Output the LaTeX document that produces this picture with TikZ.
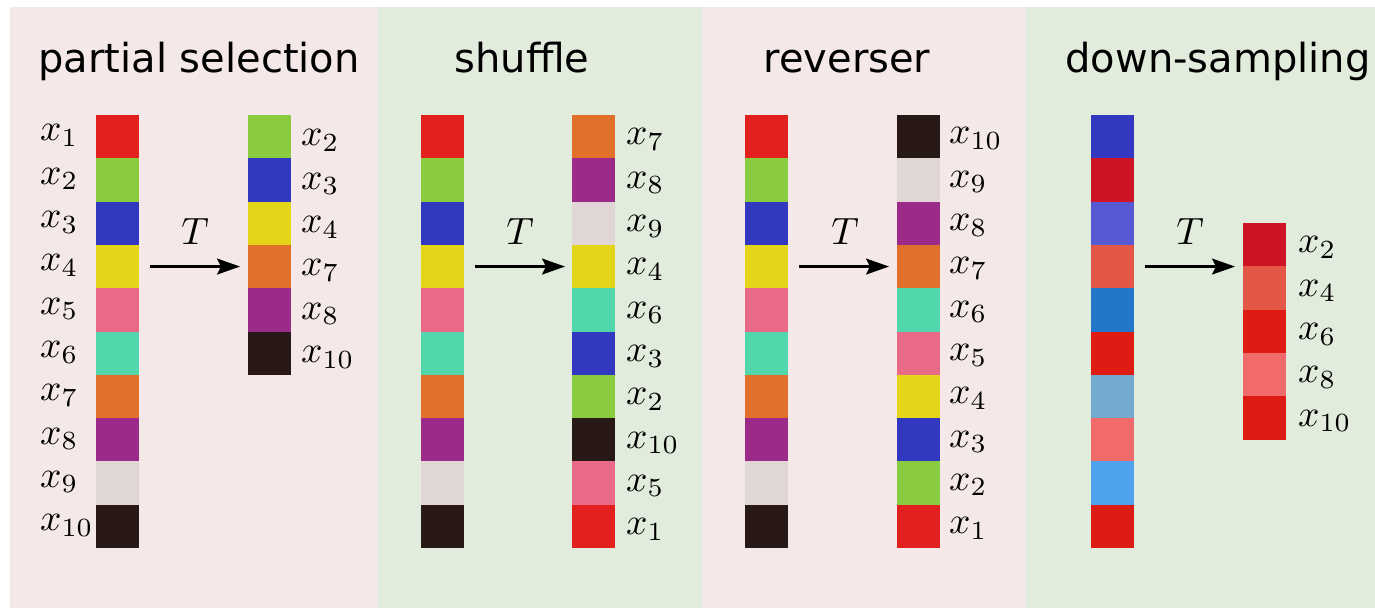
\documentclass[tikz,border=0pt]{standalone}
\usepackage{graphicx}
\usepackage{fontspec}
\newfontfamily\titlefont{DejaVu Sans}
\usetikzlibrary{arrows.meta}
\definecolor{bgP}{HTML}{F5E8E8}
\definecolor{bgG}{HTML}{E2ECDC}
\definecolor{c1}{HTML}{E2201E}
\definecolor{c2}{HTML}{89CC40}
\definecolor{c3}{HTML}{3338C0}
\definecolor{c4}{HTML}{E4D41A}
\definecolor{c5}{HTML}{E96A86}
\definecolor{c6}{HTML}{52D6AC}
\definecolor{c7}{HTML}{E0702A}
\definecolor{c8}{HTML}{9B2A88}
\definecolor{c9}{HTML}{E0D6D6}
\definecolor{c10}{HTML}{281816}
\definecolor{d1}{HTML}{3338C0}
\definecolor{d2}{HTML}{CC1424}
\definecolor{d3}{HTML}{5659D2}
\definecolor{d4}{HTML}{E45646}
\definecolor{d5}{HTML}{2277C8}
\definecolor{d6}{HTML}{DF1C14}
\definecolor{d7}{HTML}{74AACD}
\definecolor{d8}{HTML}{F26B6B}
\definecolor{d9}{HTML}{4FA3EE}
\definecolor{d10}{HTML}{DC1B14}
\newcommand{\xl}[1]{\scalebox{3.75}{$x_{#1}$}}
\tikzset{
  cell/.style={minimum width=43.3pt, minimum height=43.3pt, inner sep=0pt, outer sep=0pt, anchor=north west, draw=none},
  lab/.style={anchor=west, inner sep=0pt},
  ttl/.style={anchor=base, inner sep=0pt, font=\titlefont\fontsize{40}{44}\selectfont},
  tlab/.style={inner sep=0pt},
  tarrow/.style={line width=2.2pt, -{Stealth[length=23pt,width=16pt,inset=4pt]}, shorten <=11pt, shorten >=8pt}
}
\begin{document}
\begin{tikzpicture}[x=1pt,y=-1pt]
\useasboundingbox (0,0) rectangle (1375,608);
% panels
\fill[bgP] (10,7) rectangle (378,608);
\fill[bgG] (378,7) rectangle (702,608);
\fill[bgP] (702,7) rectangle (1026,608);
\fill[bgG] (1026,7) rectangle (1375,608);
% titles
\node[ttl] (t1) at (199,72) {partial selection};
\node[ttl] (t2) at (522,72) {shuffle};
\node[ttl] (t3) at (847,72) {reverser};
\node[ttl] (t4) at (1218,72) {down-sampling};
% panel 1
\foreach \i in {1,...,10} {
  \node[cell, fill=c\i] (pa\i) at (96,{115+(\i-1)*43.3}) {};
  \node[lab] (pal\i) at (40,{115+(\i-0.5)*43.3-1}) {\xl{\i}};
}
\foreach \k [count=\i] in {2,3,4,7,8,10} {
  \node[lab] (pbl\i) at (301,{115+(\i-0.5)*43.3+4}) {\xl{\k}};
  \node[cell, fill=c\k] (pb\i) at (248,{115+(\i-1)*43.3}) {};
}
\node[tlab] (pT) at (195,232) {\scalebox{3.8}{$T$}};
\draw[tarrow] (pa4.east) -- (pb4.west);
% panel 2 shuffle
\foreach \i in {1,...,10} {
  \node[cell, fill=c\i] (sa\i) at (421,{115+(\i-1)*43.3}) {};
}
\foreach \k [count=\i] in {7,8,9,4,6,3,2,10,5,1} {
  \node[cell, fill=c\k] (sb\i) at (572,{115+(\i-1)*43.3}) {};
  \node[lab] (sbl\i) at (626,{115+(\i-0.5)*43.3+3}) {\xl{\k}};
}
\node[tlab] (sT) at (520,232) {\scalebox{3.8}{$T$}};
\draw[tarrow, shorten >=7pt] (sa4.east) -- (sb4.west);
% panel 3 reverser
\foreach \i in {1,...,10} {
  \node[cell, fill=c\i] (ra\i) at (745,{115+(\i-1)*43.3}) {};
}
\foreach \k [count=\i] in {10,9,8,7,6,5,4,3,2,1} {
  \node[cell, fill=c\k] (rb\i) at (897,{115+(\i-1)*43.3}) {};
  \node[lab] (rbl\i) at (949,{115+(\i-0.5)*43.3+2}) {\xl{\k}};
}
\node[tlab] (rT) at (845,232) {\scalebox{3.8}{$T$}};
\draw[tarrow] (ra4.east) -- (rb4.west);
% panel 4 down-sampling
\foreach \i in {1,...,10} {
  \node[cell, fill=d\i] (da\i) at (1091,{115+(\i-1)*43.3}) {};
}
\foreach \k [count=\i] in {2,4,6,8,10} {
  \node[cell, fill=d\k] (db\i) at (1243,{223+(\i-1)*43.3}) {};
  \node[lab] (dbl\i) at (1298,{223+(\i-0.5)*43.3+3}) {\xl{\k}};
}
\node[tlab] (dT) at (1190,232) {\scalebox{3.8}{$T$}};
\draw[tarrow] (da4.east) -- (da4.east -| db1.west);
\end{tikzpicture}
\end{document}
